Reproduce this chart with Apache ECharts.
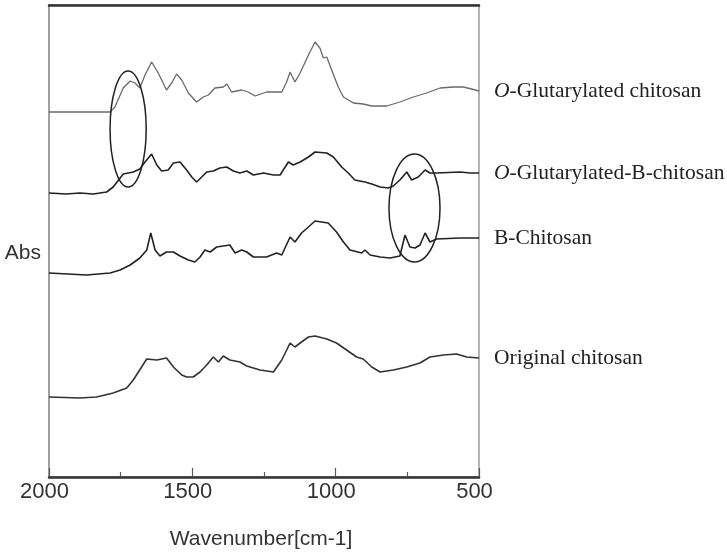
<!DOCTYPE html>
<html>
<head>
<meta charset="utf-8">
<script src="https://cdn.jsdelivr.net/npm/echarts@6/dist/echarts.min.js"></script>
<style>
  html, body { margin: 0; padding: 0; background: #fff; }
  #chart { width: 727px; height: 553px; }
</style>
</head>
<body>
<div id="chart"></div>
<script>
// FTIR spectra, [wavenumber, absorbance (offset, arbitrary)]
const glutChitosan = [
  [2000, 3.65], [1787, 3.65], [1770, 3.70], [1741, 3.89], [1717, 3.96], [1700, 3.94],
  [1683, 3.89], [1665, 4.02], [1642, 4.15], [1619, 4.04], [1590, 3.87], [1572, 3.94],
  [1555, 4.03], [1537, 3.97], [1514, 3.84], [1485, 3.75], [1462, 3.80], [1444, 3.82],
  [1421, 3.89], [1392, 3.90], [1380, 3.93], [1363, 3.85], [1328, 3.87], [1305, 3.85],
  [1281, 3.81], [1241, 3.85], [1188, 3.85], [1171, 3.95], [1159, 4.05], [1142, 3.95],
  [1124, 4.04], [1095, 4.22], [1072, 4.35], [1055, 4.29], [1043, 4.19], [1031, 4.20],
  [1014, 4.07], [991, 3.90], [973, 3.80], [938, 3.74], [904, 3.73], [874, 3.71],
  [822, 3.71], [776, 3.75], [729, 3.80], [683, 3.84], [636, 3.89], [590, 3.90],
  [555, 3.90], [526, 3.88], [500, 3.86]
];
const glutBChitosan = [
  [2000, 2.84], [1940, 2.83], [1892, 2.84], [1845, 2.83], [1799, 2.85], [1776, 2.90],
  [1741, 3.03], [1706, 3.05], [1683, 3.08], [1665, 3.15], [1642, 3.23], [1624, 3.12],
  [1607, 3.06], [1584, 3.07], [1566, 3.14], [1543, 3.15], [1520, 3.07], [1502, 3.00],
  [1485, 2.95], [1467, 3.00], [1450, 3.05], [1427, 3.06], [1404, 3.09], [1380, 3.10],
  [1357, 3.06], [1334, 3.04], [1310, 3.06], [1287, 3.02], [1252, 3.04], [1217, 3.02],
  [1194, 3.02], [1165, 3.15], [1148, 3.12], [1124, 3.15], [1095, 3.20], [1072, 3.25],
  [1031, 3.24], [1008, 3.20], [979, 3.10], [956, 3.04], [933, 2.97], [898, 2.95],
  [874, 2.93], [845, 2.90], [816, 2.89], [799, 2.91], [776, 2.97], [752, 3.05],
  [735, 2.97], [712, 3.00], [688, 3.07], [671, 3.04], [648, 3.04], [566, 3.05],
  [531, 3.04], [500, 3.04]
];
const bChitosan = [
  [2000, 2.04], [1869, 2.02], [1787, 2.04], [1752, 2.07], [1717, 2.12], [1683, 2.19],
  [1659, 2.27], [1645, 2.44], [1630, 2.27], [1613, 2.21], [1590, 2.25], [1566, 2.25],
  [1543, 2.21], [1514, 2.17], [1491, 2.15], [1473, 2.20], [1456, 2.27], [1438, 2.25],
  [1415, 2.30], [1369, 2.32], [1351, 2.24], [1328, 2.27], [1310, 2.25], [1287, 2.20],
  [1241, 2.20], [1206, 2.24], [1188, 2.22], [1159, 2.40], [1142, 2.35], [1119, 2.44],
  [1095, 2.50], [1072, 2.56], [1026, 2.54], [997, 2.45], [973, 2.35], [950, 2.27],
  [909, 2.24], [898, 2.27], [880, 2.22], [845, 2.20], [810, 2.19], [776, 2.21],
  [758, 2.42], [741, 2.30], [723, 2.29], [706, 2.32], [688, 2.44], [671, 2.35],
  [648, 2.38], [566, 2.39], [500, 2.39]
];
const origChitosan = [
  [2000, 0.80], [1892, 0.79], [1834, 0.80], [1776, 0.84], [1729, 0.89], [1706, 0.97],
  [1677, 1.10], [1659, 1.18], [1624, 1.17], [1590, 1.19], [1566, 1.10], [1537, 1.02],
  [1520, 1.00], [1497, 1.00], [1473, 1.05], [1450, 1.12], [1427, 1.20], [1409, 1.15],
  [1392, 1.21], [1369, 1.17], [1334, 1.15], [1310, 1.11], [1287, 1.09], [1264, 1.07],
  [1217, 1.05], [1188, 1.17], [1159, 1.34], [1142, 1.30], [1124, 1.34], [1095, 1.40],
  [1072, 1.41], [1031, 1.38], [997, 1.34], [962, 1.27], [927, 1.20], [904, 1.18],
  [874, 1.10], [845, 1.05], [799, 1.07], [752, 1.10], [706, 1.14], [671, 1.20],
  [624, 1.22], [578, 1.23], [543, 1.20], [500, 1.19]
];
const seriesNames = ['{i|O}-Glutarylated chitosan', '{i|O}-Glutarylated-B-chitosan', 'B-Chitosan', 'Original chitosan'];
const seriesColors = ['#6a6a6a', '#222', '#222', '#333'];
// highlighted regions: [centre wavenumber, centre abs, half width, half height]
const ellipses = [
  [1724, 3.48, 63, 0.58],
  [725, 2.69, 89, 0.54]
];

const chart = echarts.init(document.getElementById('chart'));

const labelStyle = {
  fontFamily: 'Liberation Serif',
  fontSize: 21.5,
  color: '#222'
};

const makeSeries = (data, i) => ({
  name: 'spec' + i,
  type: 'line',
  data: data,
  showSymbol: false,
  lineStyle: { color: seriesColors[i], width: i === 0 ? 1.3 : 1.6 },
  endLabel: {
    show: true,
    distance: 0,
    align: 'left',
    offset: [15, 0],
    formatter: () => seriesNames[i],
    ...labelStyle,
    rich: {
      i: { ...labelStyle, fontStyle: 'italic' }
    }
  }
});

chart.setOption({
  animation: false,
  grid: {
    left: 49, right: 248, top: 5, bottom: 76,
    outerBoundsMode: 'none',
    containLabel: false,
    show: true, borderColor: '#999', borderWidth: 1.5
  },
  xAxis: [
    {
      type: 'value',
      min: 500, max: 2000, interval: 500,
      inverse: true,
      name: 'Wavenumber[cm-1]',
      nameLocation: 'middle',
      nameGap: 52,
      nameTextStyle: { fontFamily: 'Liberation Sans', fontSize: 21, color: '#333', padding: [0, 6, 0, 0] },
      axisLine: { lineStyle: { color: '#333', width: 2.5 } },
      axisTick: { inside: true, length: 9, lineStyle: { color: '#555', width: 1.2 } },
      minorTick: { show: true, splitNumber: 2, length: 5, lineStyle: { color: '#555', width: 1.2 } },
      axisLabel: {
        margin: 4,
        fontFamily: 'Liberation Sans', fontSize: 22, color: '#333',
        padding: [0, 9, 0, 0],
        formatter: v => String(v)
      },
      splitLine: { show: false }
    },
    {
      type: 'value',
      position: 'top',
      min: 500, max: 2000,
      inverse: true,
      axisLine: { lineStyle: { color: '#333', width: 2.5 } },
      axisTick: { show: false },
      axisLabel: { show: false },
      splitLine: { show: false }
    }
  ],
  yAxis: {
    type: 'value',
    min: 0, max: 4.72,
    name: 'Abs',
    nameLocation: 'middle',
    nameRotate: 0,
    nameGap: 8,
    nameTextStyle: {
      fontFamily: 'Liberation Sans', fontSize: 21, color: '#333',
      align: 'right', verticalAlign: 'top', padding: [2, 0, 0, 0]
    },
    axisLine: { show: true, lineStyle: { color: '#999', width: 1.5 } },
    axisTick: { show: false },
    axisLabel: { show: false },
    splitLine: { show: false }
  },
  series: [glutChitosan, glutBChitosan, bChitosan, origChitosan].map(makeSeries)
});

// circle annotations placed in data coordinates
chart.setOption({
  graphic: ellipses.map(([wn, a, dw, da]) => {
    const c = chart.convertToPixel({ gridIndex: 0 }, [wn, a]);
    const e = chart.convertToPixel({ gridIndex: 0 }, [wn - dw, a + da]);
    return {
      type: 'ellipse',
      shape: { cx: c[0], cy: c[1], rx: Math.abs(e[0] - c[0]), ry: Math.abs(e[1] - c[1]) },
      style: { fill: null, stroke: '#222', lineWidth: 1.5 },
      z: 10
    };
  })
});
</script>
</body>
</html>
